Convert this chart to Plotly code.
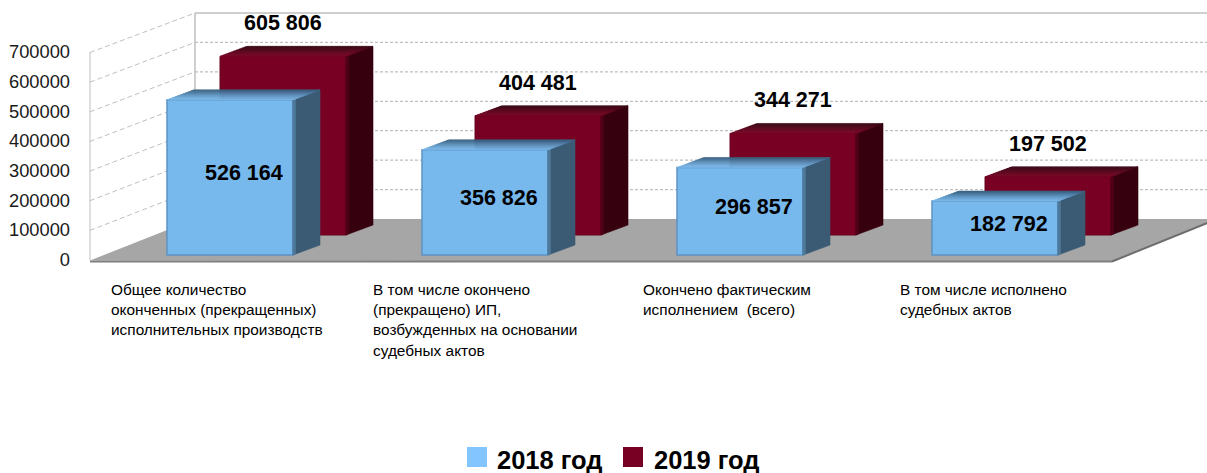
import plotly.graph_objects as go

# ---- data ----
categories = [
    ["Общее количество", "оконченных (прекращенных)", "исполнительных производств"],
    ["В том числе окончено", "(прекращено) ИП,", "возбужденных на основании", "судебных актов"],
    ["Окончено фактическим", "исполнением  (всего)"],
    ["В том числе исполнено", "судебных актов"],
]
values_2018 = [526164, 356826, 296857, 182792]
values_2019 = [605806, 404481, 344271, 197502]
series_names = ["2018 год", "2019 год"]
y_ticks = [0, 100000, 200000, 300000, 400000, 500000, 600000, 700000]

# ---- page geometry (pixel layout of the frame) ----
W, H = 1207, 473
GROUP_PX = 255.0
X0_PX = 230.0
Y0_PX = 259.5
UNITS_PER_PX = 700000 / 207.5


def X(px):
    return (px - X0_PX) / GROUP_PX


def dy(px):
    return px * UNITS_PER_PX


def Y(py):
    return (Y0_PX - py) * UNITS_PER_PX


BAR_W = 126 / GROUP_PX
DX = 27 / GROUP_PX
DY = dy(10)
RED_SHIFT = 53 / GROUP_PX
BASE_BLUE = Y(255)
BASE_RED = Y(235)
SCALE = 0.995

BLUE, BLUE_EDGE, BLUE_SIDE = "#78B9ED", "#5C93C2", "#3B5A73"
RED, RED_EDGE, RED_SIDE = "#780022", "#6A001E", "#36000F"


def mix(c1, c2, t):
    a = [int(c1[i:i + 2], 16) for i in (1, 3, 5)]
    b = [int(c2[i:i + 2], 16) for i in (1, 3, 5)]
    return "#%02X%02X%02X" % tuple(round(p + (q - p) * t) for p, q in zip(a, b))


def poly(xs, ys, color):
    return go.Scatter(
        x=xs + xs[:1], y=ys + ys[:1], mode="lines", fill="toself", fillcolor=color,
        line=dict(width=0.6, color=color), hoverinfo="skip", showlegend=False,
    )


def block_faces(xc, base, v, side, side_edge, top_back, top_front):
    xl, xr = xc - BAR_W / 2, xc + BAR_W / 2
    y1 = base + v
    out = [poly([xr, xr + DX, xr + DX, xr], [base, base + DY, y1 + DY, y1], side)]
    e = DX * 0.09
    ey = DY * 0.09
    out.append(poly([xr, xr + e, xr + e, xr], [base, base + ey, y1 + ey, y1], side_edge))
    strips = 10
    for k in range(strips):
        t0, t1 = k / strips, (k + 1) / strips
        col = mix(top_front, top_back, t1 ** 1.3)
        out.append(poly(
            [xl + DX * t0, xr + DX * t0, xr + DX * t1, xl + DX * t1],
            [y1 + DY * t0, y1 + DY * t0, y1 + DY * t1, y1 + DY * t1], col))
    return out


fig = go.Figure()
n = len(categories)

fig.add_trace(go.Bar(
    x=[i + RED_SHIFT for i in range(n)], y=[v * SCALE for v in values_2019], base=BASE_RED,
    width=BAR_W, name=series_names[1], marker=dict(color=RED, line=dict(color=RED_EDGE, width=1)),
    showlegend=False, hoverinfo="skip",
))
fig.add_trace(go.Bar(
    x=list(range(n)), y=[v * SCALE for v in values_2018], base=BASE_BLUE,
    width=BAR_W, name=series_names[0], marker=dict(color=BLUE, line=dict(color=BLUE_EDGE, width=1.5)),
    showlegend=False, hoverinfo="skip",
))
for i, v in enumerate(values_2019):
    for t in block_faces(i + RED_SHIFT, BASE_RED, v * SCALE, RED_SIDE, "#52001A", "#36000F", "#780022"):
        fig.add_trace(t)
for i, v in enumerate(values_2018):
    for t in block_faces(i, BASE_BLUE, v * SCALE, BLUE_SIDE, "#4F7A9A", "#3B6485", "#7DBCEF"):
        fig.add_trace(t)

# ---- frame: floor and walls ----
GRID = "#BFBFBF"
FL, BL = X(90), X(195)
FLOOR_FR, FLOOR_BR = X(1112), X(1217)
K_BACK = 206 / 207.5
shapes = [dict(type="path", layer="below", line=dict(width=0), fillcolor="#A6A6A6",
               path=f"M{FL},{Y(260.5)} L{BL},{Y(219)} L{FLOOR_BR},{Y(219)} L{FLOOR_FR},{Y(262)} Z"),
          dict(type="line", layer="below", x0=FL, x1=FLOOR_FR, y0=Y(261.5), y1=Y(261.5),
               line=dict(color="#7F7F7F", width=2)),
          dict(type="line", layer="below", x0=FLOOR_FR, x1=FLOOR_BR, y0=Y(261.5), y1=Y(219),
               line=dict(color="#6E6E6E", width=2)),
          dict(type="line", layer="below", x0=FL, x1=FL, y0=Y(260.5), y1=Y(52),
               line=dict(color=GRID, width=1)),
          dict(type="line", layer="below", x0=BL, x1=BL, y0=Y(219), y1=Y(13),
               line=dict(color=GRID, width=1.5))]
for t in y_ticks[1:]:
    yl = t + Y(260)
    yb = t * K_BACK + Y(219)
    solid_top = t == y_ticks[-1]
    shapes.append(dict(type="line", layer="below", x0=FL, x1=BL, y0=yl, y1=yb,
                       line=dict(color=GRID, width=1, dash="5px,3px")))
    shapes.append(dict(type="line", layer="below", x0=BL, x1=X(W), y0=yb, y1=yb,
                       line=dict(color=GRID, width=1.5 if solid_top else 1.2,
                                 dash="solid" if solid_top else "3px,2px")))

# ---- legend swatches ----
for px, col in ((467, "#83C5FE"), (623, RED)):
    shapes.append(dict(type="rect", x0=X(px), x1=X(px + 20), y0=Y(467), y1=Y(447),
                       fillcolor=col, line=dict(width=0)))

# ---- text ----
FONT = "Liberation Sans, Arial, sans-serif"
ann = []


def fmt(v):
    return f"{v:,}".replace(",", " ")


for i, v in enumerate(values_2018):
    ann.append(dict(x=i + 13.5 / GROUP_PX, y=BASE_BLUE + v * SCALE / 2 + dy(4.5), text=fmt(v),
                    showarrow=False, font=dict(family=FONT, size=21.5, color="black"),
                    xanchor="center", yanchor="middle"))
for i, v in enumerate(values_2019):
    ann.append(dict(x=i + RED_SHIFT, y=BASE_RED + v * SCALE + DY + dy(23), text=fmt(v),
                    showarrow=False, font=dict(family=FONT, size=21.5, color="black"),
                    xanchor="center", yanchor="middle"))
for a in ann:
    a["text"] = f"<b>{a['text']}</b>"

label_px = [109, 371, 641, 898]
for px, lines in zip(label_px, categories):
    for j, line in enumerate(lines):
        ann.append(dict(x=X(px), y=Y(289 + 20.4 * j), text=line, showarrow=False,
                        xanchor="left", yanchor="middle",
                        font=dict(family=FONT, size=15.4, color="black")))
for px, name in ((495, series_names[0]), (652, series_names[1])):
    ann.append(dict(x=X(px), y=Y(460), text=f"<b>{name}</b>", showarrow=False,
                    xanchor="left", yanchor="middle",
                    font=dict(family=FONT, size=25.5, color="black")))

fig.update_layout(
    width=W, height=H, margin=dict(l=0, r=0, t=0, b=0),
    paper_bgcolor="white", plot_bgcolor="white",
    barmode="overlay", showlegend=False,
    xaxis=dict(range=[X(0), X(W)], visible=False, fixedrange=True),
    yaxis=dict(range=[Y(H), Y(0)], anchor="free", position=70 / W,
               tickvals=y_ticks, ticktext=[str(t) for t in y_ticks],
               showgrid=False, zeroline=False, showline=False, ticks="",
               tickfont=dict(family=FONT, size=18.3, color="#1A1A1A"), fixedrange=True),
    shapes=shapes, annotations=ann,
)

fig.write_html("out.html", config=dict(displayModeBar=False, responsive=False),
               post_script="document.body.style.margin='0';document.body.style.overflow='hidden';")
